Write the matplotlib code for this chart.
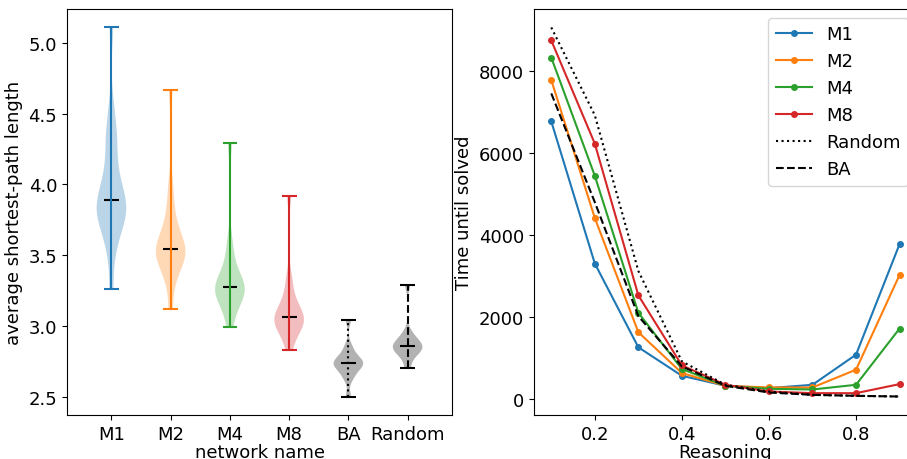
import numpy as np
import matplotlib
matplotlib.use("Agg")
import matplotlib.pyplot as plt

plt.rcParams['font.size'] = 13

# left panel: average shortest-path length samples per network (estimated)
names = ["M1", "M2", "M4", "M8", "BA", "Random"]
m1 = [3.26, 3.50, 3.60, 3.67, 3.72, 3.76, 3.79, 3.81, 3.83, 3.85, 3.888, 3.92, 3.96, 4.01, 4.07, 4.15, 4.26, 4.33, 4.40, 4.55, 5.11]
m2 = [3.12, 3.30, 3.38, 3.43, 3.46, 3.49, 3.51, 3.53, 3.541, 3.56, 3.59, 3.63, 3.68, 3.75, 3.85, 4.00, 4.67]
m4 = [2.99, 3.10, 3.15, 3.19, 3.22, 3.24, 3.26, 3.272, 3.29, 3.31, 3.35, 3.40, 3.48, 3.60, 4.29]
m8 = [2.83, 2.92, 2.96, 2.99, 3.01, 3.03, 3.045, 3.06, 3.08, 3.10, 3.13, 3.18, 3.25, 3.35, 3.92]
ba = [2.50, 2.62, 2.66, 2.69, 2.71, 2.725, 2.734, 2.745, 2.76, 2.78, 2.81, 2.86, 3.04]
rnd = [2.70, 2.78, 2.81, 2.83, 2.845, 2.854, 2.865, 2.88, 2.91, 2.95, 3.29]
samples = [m1, m2, m4, m8, ba, rnd]

# right panel: time until solved vs reasoning
reasoning = [0.1, 0.2, 0.3, 0.4, 0.5, 0.6, 0.7, 0.8, 0.9]
t_m1 = [6771, 3303, 1259, 563, 319, 262, 343, 1079, 3776]
t_m2 = [7781, 4413, 1626, 630, 319, 278, 278, 711, 3024]
t_m4 = [8330, 5443, 2101, 728, 318, 245, 229, 343, 1716]
t_m8 = [8747, 6228, 2526, 817, 343, 180, 139, 139, 360]
t_random = [9064, 6922, 3121, 915, 343, 180, 98, 74, 57]
t_ba = [7454, 4799, 2019, 792, 319, 155, 98, 74, 57]

fig = plt.figure(figsize=(9.07, 4.6), dpi=100)
ax1 = fig.add_axes([0.0739, 0.0957, 0.4245, 0.8826])
ax2 = fig.add_axes([0.5886, 0.0957, 0.4224, 0.8826])

colors = ["C0", "C1", "C2", "C3", "k", "k"]
bar_styles = ["-", "-", "-", "-", ":", "--"]
positions = np.arange(1, len(names) + 1)
for pos, data, c, ls in zip(positions, samples, colors, bar_styles):
    parts = ax1.violinplot(data, positions=[pos], showmedians=True, bw_method=0.3)
    for b in parts['bodies']:
        b.set_facecolor(c)
        b.set_edgecolor('none')
        b.set_alpha(0.3)
    parts['cbars'].set_color(c)
    parts['cbars'].set_linestyle(ls)
    parts['cbars'].set_zorder(3)
    parts['cmins'].set_color(c)
    parts['cmaxes'].set_color(c)
    parts['cmedians'].set_color('k')
    parts['cmedians'].set_zorder(2)
ax1.set_xticks(positions)
ax1.set_xticklabels(names)
ax1.set_xlim(0.25, 6.75)
ax1.set_xlabel("network name", labelpad=0)
ax1.set_ylabel("average shortest-path length")

ax2.plot(reasoning, t_m1, "o-", color="C0", ms=4, label="M1")
ax2.plot(reasoning, t_m2, "o-", color="C1", ms=4, label="M2")
ax2.plot(reasoning, t_m4, "o-", color="C2", ms=4, label="M4")
ax2.plot(reasoning, t_m8, "o-", color="C3", ms=4, label="M8")
ax2.plot(reasoning, t_random, ":", color="k", label="Random")
ax2.plot(reasoning, t_ba, "--", color="k", label="BA")
ax2.set_xlabel("Reasoning", labelpad=0)
ax2.set_ylabel("Time until solved")
ax2.legend(loc="upper right")

fig.savefig("out.png", dpi=100)
